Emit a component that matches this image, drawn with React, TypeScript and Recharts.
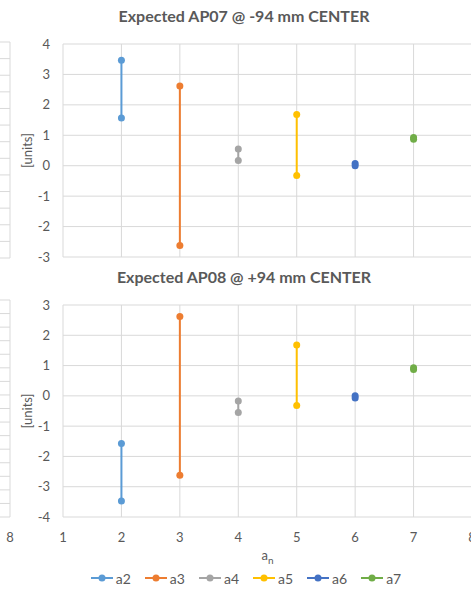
import React from 'react';
import { CartesianGrid, Legend, Line, LineChart, XAxis, YAxis } from 'recharts';

const seriesNames = ['a2', 'a3', 'a4', 'a5', 'a6', 'a7'];
const seriesX = [2, 3, 4, 5, 6, 7];
const seriesColors = ['#5B9BD5', '#ED7D31', '#A5A5A5', '#FFC000', '#4472C4', '#70AD47'];

// AP07 @ -94 mm
const topHigh = [3.47, 2.62, 0.55, 1.68, 0.07, 0.93];
const topLow = [1.57, -2.62, 0.17, -0.32, 0.0, 0.87];
// AP08 @ +94 mm
const bottomHigh = [-1.57, 2.62, -0.17, 1.68, 0.0, 0.93];
const bottomLow = [-3.47, -2.62, -0.55, -0.32, -0.07, 0.87];

const xTicks = [1, 2, 3, 4, 5, 6, 7, 8];
const topYTicks = [-3, -2, -1, 0, 1, 2, 3, 4];
const bottomYTicks = [-4, -3, -2, -1, 0, 1, 2, 3];

// neighbouring chart, only its right edge is visible
const neighborXTicks = [8];
const neighborTopTicks = [0, 1, 2, 3, 4, 5, 6, 7, 8, 9, 10, 11, 12, 13];
const neighborBottomTicks = [0, 1, 2, 3, 4, 5, 6, 7, 8, 9, 10, 11, 12, 13, 14, 15, 16];

const FONT = 'Lato, "Open Sans", sans-serif';
const TEXT = '#595959';
const GRID = '#D9D9D9';

const buildSeries = (high: number[], low: number[]) =>
  seriesNames.map((name, i) => ({
    name,
    color: seriesColors[i],
    data: [
      { x: seriesX[i], y: high[i] },
      { x: seriesX[i], y: low[i] },
    ],
  }));

const tick = { fill: TEXT, fontSize: 13, fontFamily: FONT };

const LegendRow = (props: any) => {
  const items = props.payload ?? [];
  return (
    <div style={{ display: 'flex', justifyContent: 'center', height: 20, alignItems: 'center', fontFamily: FONT, fontSize: 14, color: TEXT }}>
      {items.map((it: any, i: number) => (
        <div key={it.value} style={{ display: 'flex', alignItems: 'center', marginLeft: i === 0 ? 0 : 14 }}>
          <svg width={22} height={10} style={{ marginRight: 3 }}>
            <line x1={0} y1={5} x2={22} y2={5} stroke={it.color} strokeWidth={2} />
            <circle cx={11} cy={5} r={3.5} fill={it.color} />
          </svg>
          <span>{it.value}</span>
        </div>
      ))}
    </div>
  );
};

const AnLabel = (props: any) => {
  const vb = props.viewBox;
  return (
    <text x={vb.x + vb.width / 2} y={vb.y + 43} textAnchor="middle" fill={TEXT} fontFamily={FONT} fontSize={13}>
      <tspan>a</tspan>
      <tspan fontSize={10} dy={4}>n</tspan>
    </text>
  );
};

function Panel({ high, low, yTicks, showX }: { high: number[]; low: number[]; yTicks: number[]; showX: boolean }) {
  const series = buildSeries(high, low);
  return (
    <LineChart
      width={480}
      height={showX ? 320 : 265}
      margin={showX ? { top: 35, right: 8, left: 0, bottom: 2 } : { top: 44, right: 8, left: 0, bottom: 8 }}
    >
      <CartesianGrid stroke={GRID} strokeWidth={1} />
      <XAxis
        dataKey="x"
        type="number"
        domain={[1, 8]}
        ticks={xTicks}
        interval={0}
        hide={!showX}
        height={51}
        axisLine={false}
        tickLine={false}
        tickSize={0}
        tickMargin={16}
        tick={tick}
        label={showX ? { content: AnLabel } : undefined}
      />
      <YAxis
        type="number"
        domain={[yTicks[0], yTicks[yTicks.length - 1]]}
        ticks={yTicks}
        interval={0}
        width={63}
        axisLine={false}
        tickLine={false}
        tickSize={0}
        tickMargin={13}
        tick={tick}
        label={{
          value: '[units]',
          angle: -90,
          position: 'insideLeft',
          offset: 27,
          style: { textAnchor: 'middle', fill: TEXT, fontFamily: FONT, fontSize: 13 },
        }}
      />
      {series.map((s) => (
        <Line
          key={s.name}
          data={s.data}
          dataKey="y"
          name={s.name}
          stroke={s.color}
          strokeWidth={2}
          dot={{ r: 3.5, fill: s.color, stroke: s.color, strokeWidth: 0 }}
          activeDot={false}
          isAnimationActive={false}
        />
      ))}
      {showX && <Legend verticalAlign="bottom" content={LegendRow} wrapperStyle={{ left: 6, width: 480 }} />}
    </LineChart>
  );
}

function NeighborEdge({ yTicks, showX, top }: { yTicks: number[]; showX: boolean; top: number }) {
  return (
    <LineChart width={200} height={showX ? 320 : 265} margin={{ top, right: 10, left: 0, bottom: showX ? 0 : 7 }}>
      <CartesianGrid stroke={GRID} strokeWidth={1} />
      <XAxis
        type="number"
        dataKey="x"
        domain={[1, 8]}
        allowDataOverflow
        ticks={neighborXTicks}
        interval={0}
        hide={!showX}
        height={73}
        axisLine={false}
        tickLine={false}
        tickSize={0}
        tickMargin={16}
        tick={tick}
      />
      <YAxis
        type="number"
        domain={[yTicks[0], yTicks[yTicks.length - 1]]}
        allowDataOverflow
        ticks={yTicks}
        interval={0}
        hide
      />
    </LineChart>
  );
}

const titleStyle: React.CSSProperties = {
  position: 'absolute',
  left: 0,
  width: 488,
  textAlign: 'center',
  fontFamily: FONT,
  fontWeight: 700,
  fontSize: 16,
  color: TEXT,
};

export default function App() {
  return (
    <div style={{ position: 'absolute', left: 0, top: 0, width: 471, height: 590, overflow: 'hidden', background: '#fff' }}>
      <div style={{ position: 'absolute', left: -180, top: 0 }}>
        <NeighborEdge yTicks={neighborTopTicks} showX={false} top={42} />
      </div>
      <div style={{ position: 'absolute', left: -180, top: 270 }}>
        <NeighborEdge yTicks={neighborBottomTicks} showX={true} top={30} />
      </div>
      <div style={{ position: 'absolute', left: 0, top: 0 }}>
        <Panel high={topHigh} low={topLow} yTicks={topYTicks} showX={false} />
      </div>
      <div style={{ position: 'absolute', left: 0, top: 270 }}>
        <Panel high={bottomHigh} low={bottomLow} yTicks={bottomYTicks} showX={true} />
      </div>
      <div style={{ ...titleStyle, top: 6 }}>Expected AP07 @ -94 mm CENTER</div>
      <div style={{ ...titleStyle, top: 267 }}>Expected AP08 @ +94 mm CENTER</div>
    </div>
  );
}
